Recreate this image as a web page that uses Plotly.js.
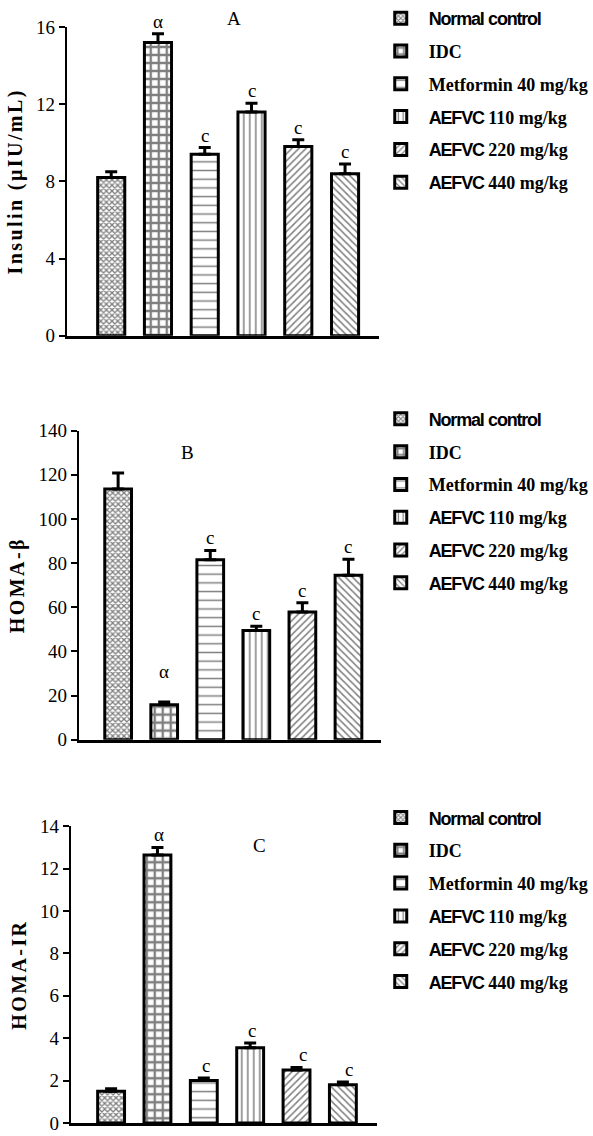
<!DOCTYPE html>
<html>
<head>
<meta charset="utf-8">
<script src="https://cdn.plot.ly/plotly-3.0.1.min.js"></script>
<style>html,body{margin:0;padding:0;background:#fff;}#chart{width:593px;height:1136px;}</style>
</head>
<body>
<div id="chart"></div>
<script>
// ---- data ----
const categories = ['Normal control', 'IDC', 'Metformin 40 mg/kg', 'AEFVC 110 mg/kg', 'AEFVC 220 mg/kg', 'AEFVC 440 mg/kg'];
const insulin = [8.2, 15.2, 9.4, 11.6, 9.8, 8.4];
const insulinErr = [0.3, 0.45, 0.35, 0.45, 0.35, 0.5];
const homaB = [113.5, 15.8, 81.5, 49.5, 57.8, 74.5];
const homaBErr = [7.3, 1.2, 4.2, 1.9, 4.2, 7.2];
const homaIR = [1.5, 12.65, 2.0, 3.55, 2.5, 1.8];
const homaIRErr = [0.12, 0.35, 0.12, 0.22, 0.12, 0.13];
const sigLetters = ['', 'α', 'c', 'c', 'c', 'c'];
const panelLetters = ['A', 'B', 'C'];
const yTitles = ['Insulin (µIU/mL)', 'HOMA-β', 'HOMA-IR'];
const yTicks = [[0, 4, 8, 12, 16], [0, 20, 40, 60, 80, 100, 120, 140], [0, 2, 4, 6, 8, 10, 12, 14]];

// ---- styling ----
const W = 593, H = 1136;
const serif = 'Liberation Serif, Times New Roman, serif';
const sansStyle = 'font-family:Liberation Sans, Arial, sans-serif;letter-spacing:-1.2px';
const patterns = [
  {shape: 'x', size: 4, solidity: 0.55},
  {shape: '+', size: 8, solidity: 0.5},
  {shape: '-', size: 8.7, solidity: 0.17},
  {shape: '|', size: 6, solidity: 0.25},
  {shape: '/', size: 5, solidity: 0.3},
  {shape: '\\', size: 5, solidity: 0.3}
];
function legendLabel(name) {
  const sansWords = ['Normal', 'control', 'AEFVC'];
  return '<b>' + name.split(' ').map(w => sansWords.includes(w)
    ? '<span style="' + sansStyle + '">' + w + '</span>' : w).join(' ') + '</b>';
}
const panels = [
  {px: [67, 380, 335, 26], xr: [-0.95, 5.72], yr: [0, 16], vals: insulin, errs: insulinErr, label: [235, 18], legY: -1},
  {px: [79, 382, 739.3, 430], xr: [-0.855, 5.7], yr: [0, 140], vals: homaB, errs: homaBErr, label: [188, 452], legY: 400},
  {px: [71, 378, 1123, 826], xr: [-0.87, 5.73], yr: [0, 14], vals: homaIR, errs: homaIRErr, label: [260, 845], legY: 799}
];

const traces = [];
const annotations = [];
const layout = {
  width: W, height: H,
  margin: {l: 0, r: 0, t: 0, b: 0},
  paper_bgcolor: '#fff', plot_bgcolor: 'rgba(0,0,0,0)',
  barmode: 'overlay',
  showlegend: true,
  font: {family: serif, color: '#000'}
};

panels.forEach((p, pi) => {
  const sfx = pi === 0 ? '' : String(pi + 1);
  const legName = 'legend' + sfx;
  categories.forEach((c, j) => {
    traces.push({
      type: 'bar',
      x: [c], y: [p.vals[j]],
      xaxis: 'x' + sfx, yaxis: 'y' + sfx,
      name: legendLabel(c),
      legend: legName,
      legendgroup: 'g' + pi + '_' + j,
      width: 0.58,
      cliponaxis: false,
      marker: {
        color: '#fff',
        line: {color: '#000', width: 3},
        pattern: Object.assign({fgcolor: '#000', bgcolor: '#fff', fillmode: 'overlay'}, patterns[j])
      },
      error_y: {type: 'data', symmetric: false, array: [p.errs[j]], arrayminus: [0], color: '#000', thickness: 3, width: 6},
      hoverinfo: 'skip'
    });
    if (sigLetters[j]) {
      annotations.push({
        xref: 'x' + sfx, yref: 'y' + sfx,
        x: c, y: p.vals[j] + p.errs[j],
        text: sigLetters[j], showarrow: false,
        yanchor: 'bottom', yshift: (pi === 1 && j === 1) ? 18 : 0,
        xshift: pi === 2 ? (j >= 4 ? 6 : 2) : 0,
        font: {family: serif, size: 19, color: '#000'}
      });
    }
  });
  const [xl, xr, yb, yt] = p.px;
  layout['xaxis' + sfx] = {
    domain: [xl / W, xr / W], range: p.xr, type: 'category',
    anchor: 'y' + sfx, showline: true, linewidth: 3, linecolor: '#000',
    showticklabels: false, ticks: '', showgrid: false, zeroline: false, fixedrange: true
  };
  layout['yaxis' + sfx] = {
    domain: [(H - yb) / H, (H - yt) / H], range: p.yr,
    anchor: 'x' + sfx, tickvals: yTicks[pi], ticktext: yTicks[pi].map(String),
    ticks: 'outside', ticklen: 6, tickwidth: 2, tickcolor: '#000',
    showline: true, linewidth: 2, linecolor: '#000', showgrid: false, zeroline: false,
    ticklabeloverflow: 'allow',
    tickfont: {family: serif, size: 19, color: '#000'},
    title: {text: '<span style="letter-spacing:2.4px">' + yTitles[pi] + '</span>',
            font: {family: serif, size: 20, weight: 'bold', color: '#000'}, standoff: 8},
    fixedrange: true
  };
  layout[legName] = {
    x: 374 / W, xanchor: 'left', y: (H - p.legY) / H, yanchor: 'top',
    bgcolor: 'rgba(0,0,0,0)', borderwidth: 0, itemwidth: 46,
    traceorder: 'grouped', tracegroupgap: 6.4,
    font: {family: serif, size: 18, color: '#000'}
  };
  annotations.push({
    xref: 'paper', yref: 'paper', x: p.label[0] / W, y: (H - p.label[1]) / H,
    text: panelLetters[pi], showarrow: false, xanchor: 'center', yanchor: 'middle',
    font: {family: serif, size: 19, color: '#000'}
  });
});
layout.annotations = annotations;

Plotly.newPlot('chart', traces, layout, {displayModeBar: false, staticPlot: true});
</script>
</body>
</html>
